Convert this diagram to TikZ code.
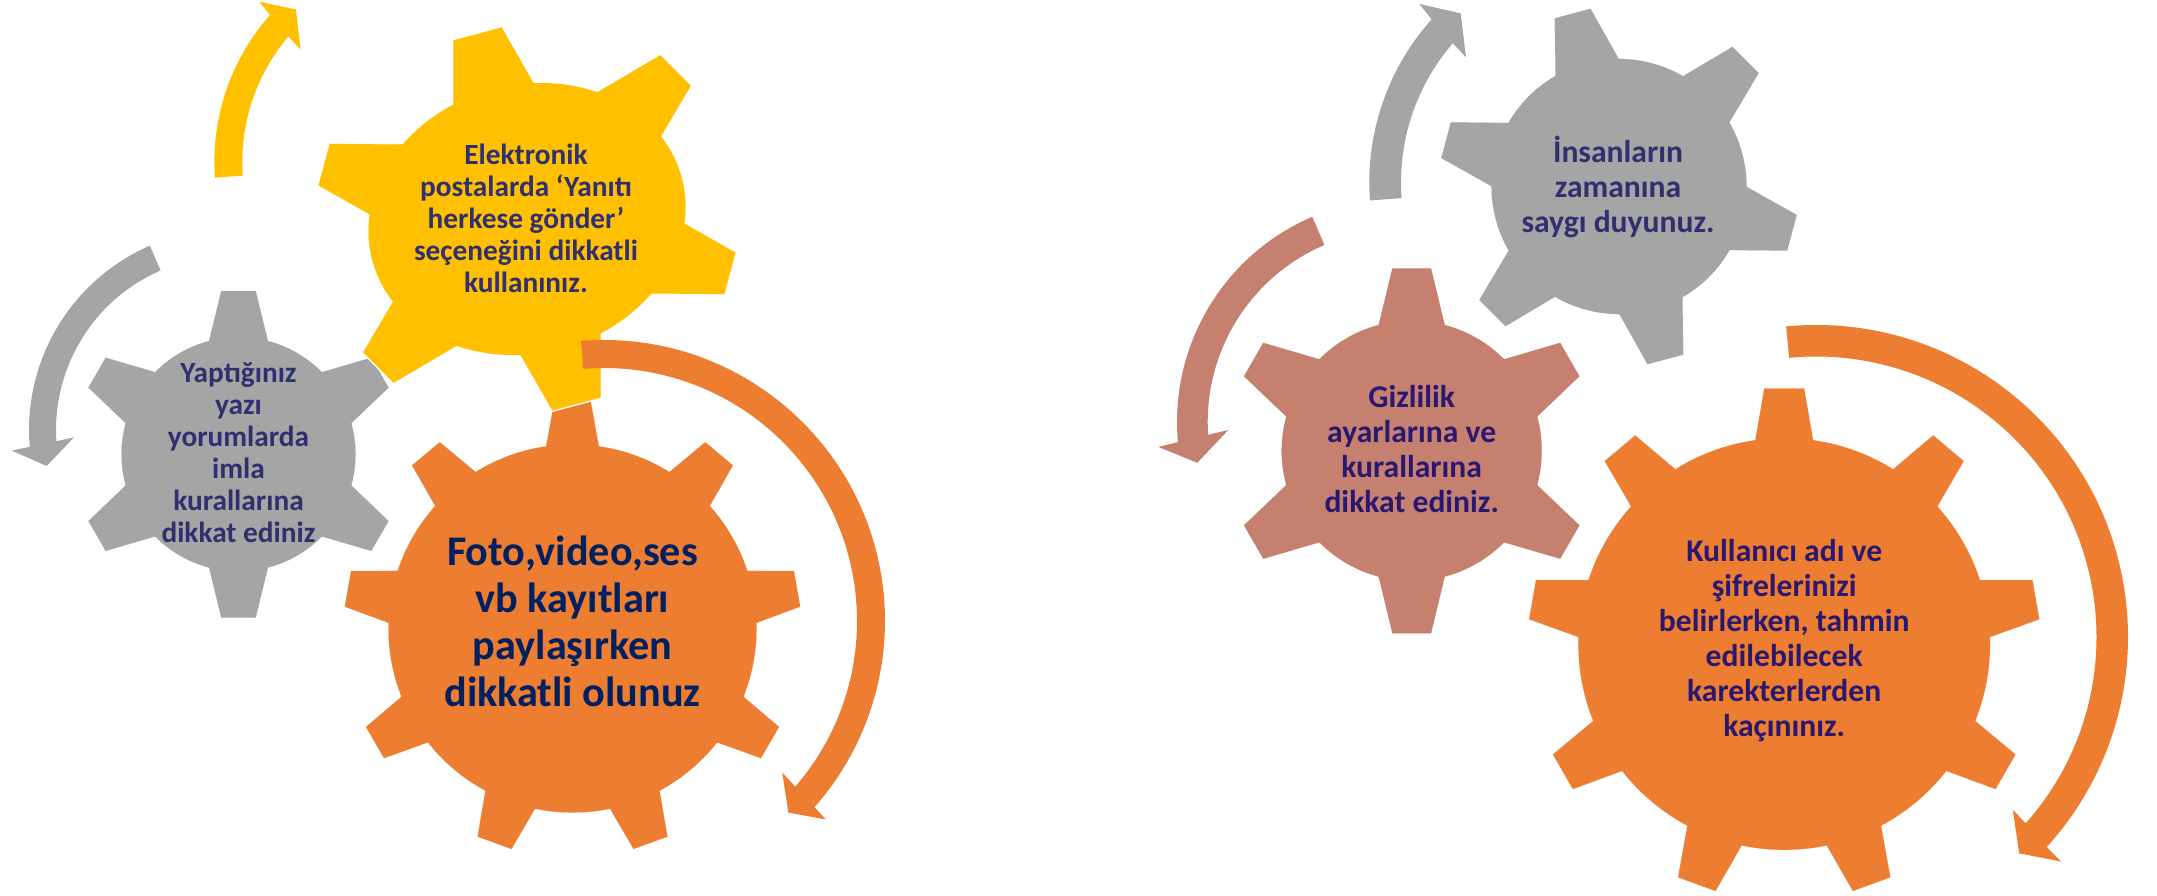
\documentclass[tikz,border=0pt]{standalone}
\usepackage{fontspec}
\setmainfont{Carlito}
\usepackage{tikz}
\usepackage{xcolor}

\definecolor{gearorange}{HTML}{ED7D31}
\definecolor{gearyellow}{HTML}{FFC000}
\definecolor{geargray}{HTML}{A5A5A5}
\definecolor{gearrose}{HTML}{C5806F}
\definecolor{inkblue}{HTML}{302F6F}
\definecolor{inknavy}{HTML}{002060}
\definecolor{inkviolet}{HTML}{2A1870}

% gear: cx, cy, body r, outer r, teeth, turn, tip half, base half, colour
\newcommand{\gear}[9]{%
  \pgfmathsetmacro{\gin}{#3-12}%
  \pgfmathsetmacro{\gwin}{#8+12*(#8-#7)/(#4-#3)}%
  \begin{scope}[shift={(#1,-#2)}, rotate=#6]
    \foreach \gc/\gw in {white/3,#9/0.1} {
      \fill[fill=\gc, draw=\gc, line width=\gw pt] (0,0) circle (#3);
      \foreach \k in {1,...,#5}
        \fill[fill=\gc, draw=\gc, line width=\gw pt, rotate=90+360/#5*\k]
          (\gin,-\gwin) -- (#4,-#7) -- (#4,#7) -- (\gin,\gwin) -- cycle;
    }
  \end{scope}}

\begin{document}
\begin{tikzpicture}[x=1pt, y=1pt,
  smalltxt/.style={align=center, inner sep=0pt, font=\fontsize{29.3}{32}\selectfont\bfseries},
  bigtxt/.style={align=center, inner sep=0pt, font=\fontsize{42.2}{47}\selectfont\bfseries},
  midtxt/.style={align=center, inner sep=0pt, font=\fontsize{31.6}{35}\selectfont\bfseries}]
\useasboundingbox (0,0) rectangle (2157,-896);

% left group
\gear{572.5}{628.5}{184}{228}{9}{0}{18}{26}{gearorange}
\gear{238.5}{454.3}{117}{163.3}{6}{0}{17.2}{28.5}{geargray}
\begin{scope}[shift={(527,-219)}, rotate=15]
  \foreach \gc/\gw in {white/3,gearyellow/0.1} {
    \fill[fill=\gc, draw=\gc, line width=\gw pt] (0,0) ellipse [x radius=160, y radius=134];
    \foreach \a/\r/\wt/\wb in {90/134/25/40, 270/134/25/40, 30/152.5/21.5/36,
                                150/152.5/21.5/36, 210/152.5/21.5/36, 330/152.5/21.5/36}
      \fill[fill=\gc, draw=\gc, line width=\gw pt, rotate=\a]
        ({\r-14},{-\wb-4}) -- ({\r+57.5},-\wt) -- ({\r+57.5},\wt) -- ({\r-14},{\wb+4}) -- cycle;
  }
\end{scope}

\begin{scope}[shift={(436,-161.8)}]
  \fill[gearyellow] (184.1:221.6) arc[start angle=184.1, end angle=138.5, radius=221.6]
    -- (137.8:238.4) -- (132.6:207) -- (140.3:176) -- (139.7:193.7)
    arc[start angle=139.7, end angle=184.1, radius=193.7] -- cycle;
\end{scope}
\begin{scope}[shift={(230,-430)}]
  \fill[geargray] (113.5:201) arc[start angle=113.5, end angle=184.8, radius=201]
    -- (185.4:219.3) -- (191.1:186.8) -- (182.7:156.2) -- (183.7:174)
    arc[start angle=183.7, end angle=113.5, radius=174] -- cycle;
\end{scope}
\begin{scope}[shift={(604,-621)}]
  \fill[gearorange] (94.7:281) arc[start angle=94.7, end angle=-41.5, radius=281]
    -- (-41.8:297.7) -- (-46.1:265.9) -- (-40.4:234.1) -- (-40.9:253)
    arc[start angle=-40.9, end angle=94.7, radius=253] -- cycle;
\end{scope}

\node[smalltxt, text=inkblue] (eposta) at (526,-218)
  {Elektronik\\postalarda ‘Yanıtı\\herkese gönder’\\seçeneğini dikkatli\\kullanınız.};
\node[smalltxt, text=inkblue] (yazim) at (238.5,-452.5)
  {Yaptığınız\\yazı\\yorumlarda\\imla\\kurallarına\\dikkat ediniz};
\node[bigtxt, text=inknavy] (foto) at (572.5,-621.5)
  {Foto,video,ses\\vb kayıtları\\paylaşırken\\dikkatli olunuz};

% right group
\gear{1411.7}{450.8}{130}{182.5}{6}{0}{19.3}{32}{gearrose}
\gear{1619}{186.5}{127.5}{179}{6}{15}{18.5}{31.6}{geargray}
\gear{1784.2}{644}{205.8}{255.5}{9}{0}{19.9}{28.5}{gearorange}

\begin{scope}[shift={(1613.2,-182.2)}]
  \fill[geargray] (184.3:243.9) arc[start angle=184.3, end angle=138.1, radius=243.9]
    -- (137.4:263.3) -- (132.1:227.6) -- (139.7:193) -- (139.1:212.2)
    arc[start angle=139.1, end angle=184.3, radius=212.2] -- cycle;
\end{scope}
\begin{scope}[shift={(1400.2,-421.9)}]
  \fill[gearrose] (113.2:223.2) arc[start angle=113.2, end angle=185.2, radius=223.2]
    -- (185.9:243.2) -- (191.4:207) -- (182.7:172.1) -- (183.85:192.5)
    arc[start angle=183.85, end angle=113.2, radius=192.5] -- cycle;
\end{scope}
\begin{scope}[shift={(1816,-637)}]
  \fill[gearorange] (95.5:312) arc[start angle=95.5, end angle=-42.3, radius=312]
    -- (-42.5:332.4) -- (-46.8:296.8) -- (-41.3:262) -- (-41.6:280.5)
    arc[start angle=-41.6, end angle=95.5, radius=280.5] -- cycle;
\end{scope}

\node[midtxt, text=inkblue] (zaman) at (1618,-186.5)
  {İnsanların\\zamanına\\saygı duyunuz.};
\node[midtxt, text=inkviolet] (gizlilik) at (1411.7,-449.5)
  {Gizlilik\\ayarlarına ve\\kurallarına\\dikkat ediniz.};
\node[midtxt, text=inkviolet] (sifre) at (1784.2,-641)
  {Kullanıcı adı ve\\şifrelerinizi\\belirlerken, tahmin\\edilebilecek\\karekterlerden\\kaçınınız.};
\end{tikzpicture}
\end{document}
